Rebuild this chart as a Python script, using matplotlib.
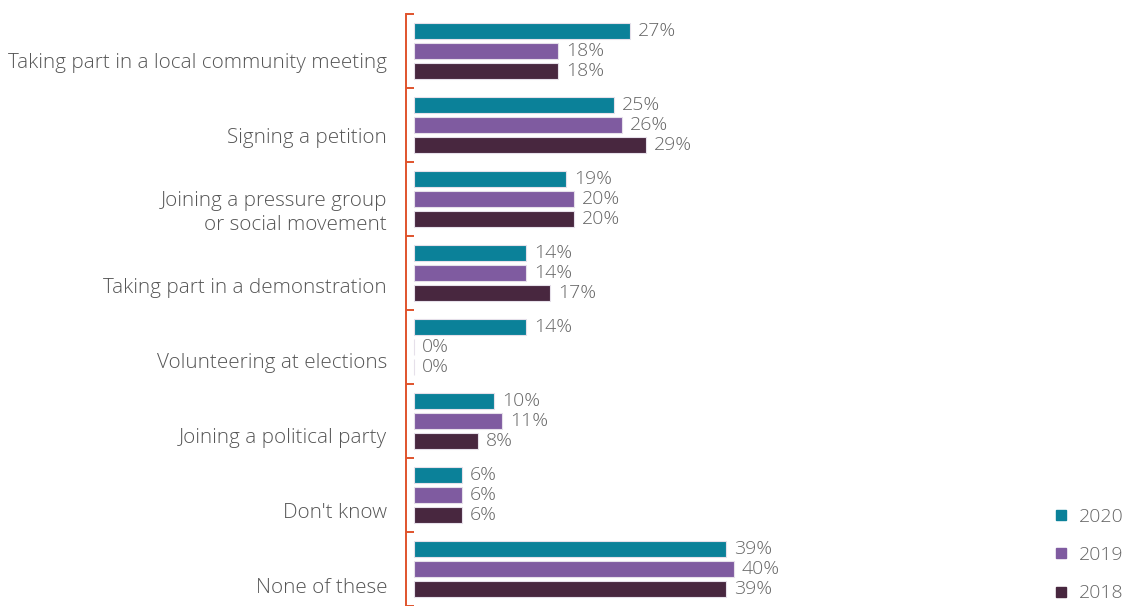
import matplotlib.pyplot as plt
from matplotlib.lines import Line2D
import numpy as np

plt.rcParams['font.family'] = ['Open Sans', 'DejaVu Sans']

categories = [
    "Taking part in a local community meeting",
    "Signing a petition",
    "Joining a pressure group\nor social movement",
    "Taking part in a demonstration",
    "Volunteering at elections",
    "Joining a political party",
    "Don't know",
    "None of these",
]
years = ["2020", "2019", "2018"]
v2020 = [27, 25, 19, 14, 14, 10, 6, 39]
v2019 = [18, 26, 20, 14, 0, 11, 6, 40]
v2018 = [18, 29, 20, 17, 0, 8, 6, 39]
colors = ["#0b8199", "#7f5ba0", "#48273f"]

W, H = 1127, 606
fig = plt.figure(figsize=(W / 100, H / 100), dpi=100)
ax = fig.add_axes([406 / W, 0, (1000 - 406) / W, (H - 14) / H])

n = len(categories)
idx = np.arange(n)
offsets = [0.23, 0.5, 0.77]
bar_h = 0.225
text_grey = "#666666"

for series, off, col in zip([v2020, v2019, v2018], offsets, colors):
    ax.barh(idx + off, series, height=bar_h, left=0, color=col,
            edgecolor="#e6e0ea", linewidth=0.8)
    for i, v in enumerate(series):
        ax.text(v + 1.0, i + off, f"{v}%", va="center", ha="left",
                fontsize=14, fontweight="light", color=text_grey)

# category labels sit slightly below the group centre
for i, name in enumerate(categories):
    fig.text(387 / W, 1 - (14 + 74 * (i + 0.5) + 12 + 1.0 * i) / H, name,
             ha="right", va="center", fontsize=14.9, fontweight="light",
             color="#555555", linespacing=1.3)

ax.set_xlim(-1, (1000 - 406) / 8 - 1)
ax.set_ylim(n, 0)
for s in ["top", "right", "bottom"]:
    ax.spines[s].set_visible(False)
ax.spines["left"].set_color("#e0532c")
ax.spines["left"].set_linewidth(1.4)
ax.set_xticks([])
ax.set_yticks(np.arange(n + 1))
ax.set_yticklabels([])
ax.tick_params(axis="y", direction="in", length=6, width=1.4, color="#e0532c")

handles = [Line2D([], [], marker="s", linestyle="none", markersize=7,
                  color=c) for c in colors]
fig.legend(handles, years, loc="lower left",
           bbox_to_anchor=(1036 / W, -14 / H), frameon=False,
           prop={"weight": "light", "size": 14},
           labelcolor=text_grey, handlelength=0.8,
           handletextpad=0.5, labelspacing=1.05)

fig.savefig("out.png", dpi=100)
